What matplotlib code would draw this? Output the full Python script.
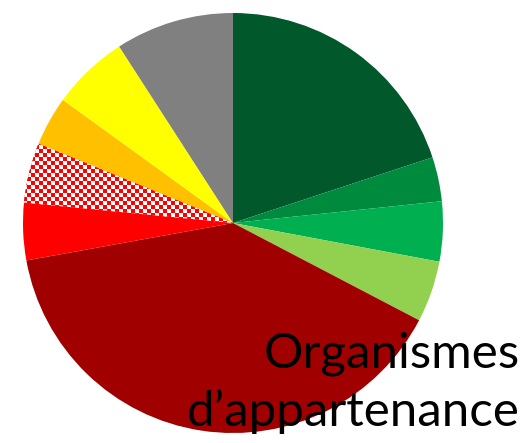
import numpy as np
import matplotlib
matplotlib.use('Agg')
import matplotlib.pyplot as plt

# slice shares (%), clockwise from 12 o'clock
shares = [19.9, 3.4, 4.6, 4.7, 39.4, 4.4, 4.6, 3.8, 5.9, 9.1]
colors = ['#00582b', '#008a3e', '#00b050', '#92d050', '#a00000',
          '#ff0000', '#ff0000', '#ffc000', '#ffff00', '#808080']
checkered = 6          # index of the red/white checkered slice
title_lines = ['Organismes', 'd\u2019appartenance']

fig = plt.figure(figsize=(5.25, 4.43), dpi=100)
ax = fig.add_axes([23/525, 10/443, 420/525, 420/443])
wedges, _ = ax.pie(shares, colors=colors, startangle=90, counterclock=False,
                   radius=1, wedgeprops=dict(linewidth=0))
ax.set_xlim(-1, 1)
ax.set_ylim(-1, 1)
ax.set_aspect('equal')
ax.axis('off')

# checker pattern clipped to the wedge
n = 105
ii, jj = np.meshgrid(np.arange(n), np.arange(n))
board = ((ii + jj) % 2).astype(float)
img = ax.imshow(board, cmap=matplotlib.colors.ListedColormap(['#ff0000', '#ffffff']),
                extent=(-1, 1, -1, 1), interpolation='nearest', zorder=3)
img.set_clip_path(wedges[checkered])

fig.text(520/525, 1 - 368/443, title_lines[0], ha='right', va='baseline',
         fontsize=35.5, family='Lato')
fig.text(520/525, 1 - 426/443, title_lines[1], ha='right', va='baseline',
         fontsize=35.5, family='Lato')

fig.savefig('out.png', dpi=100)
